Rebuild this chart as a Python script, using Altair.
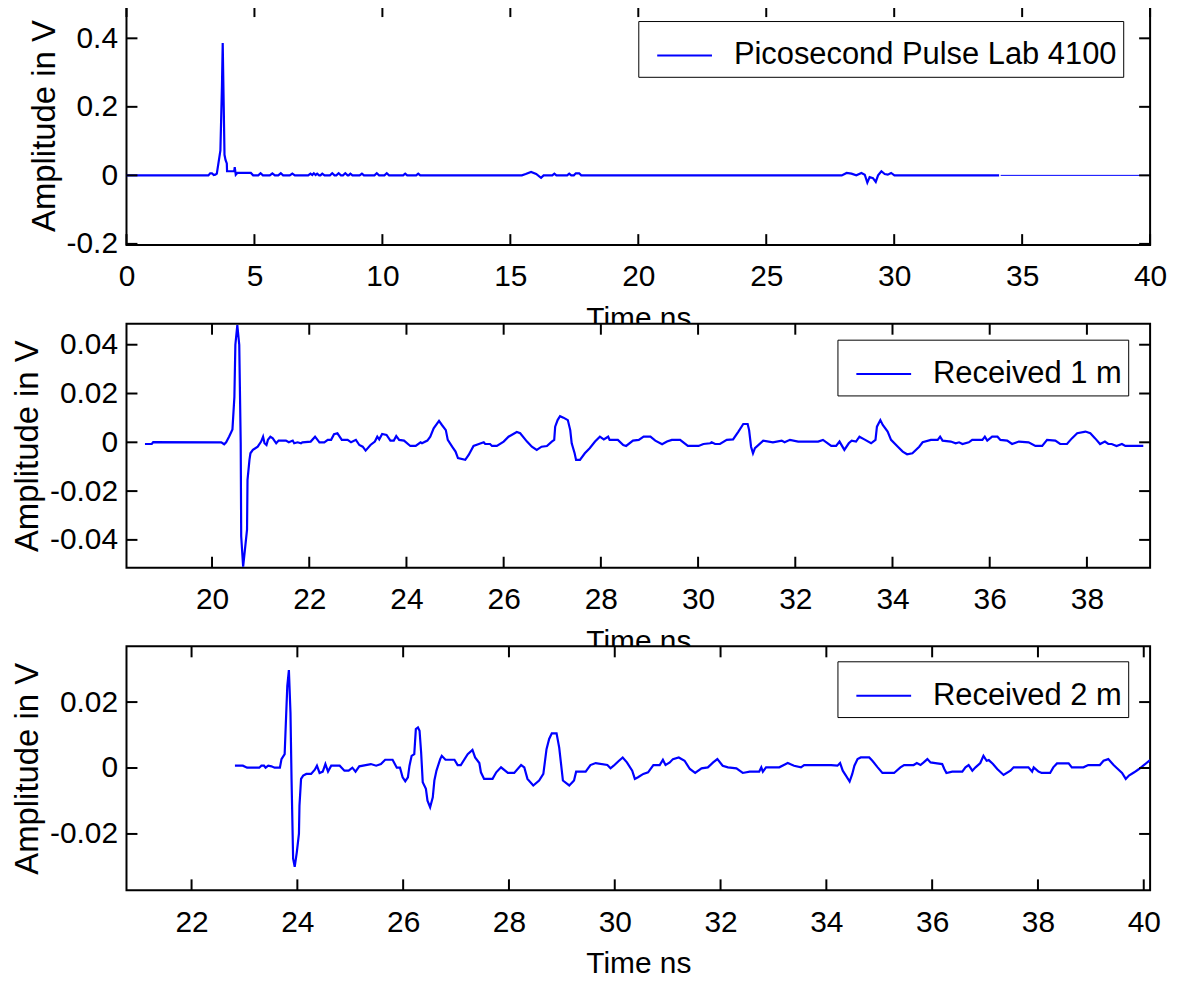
import altair as alt
import pandas as pd

FONT = "Liberation Sans"
BLUE = "#0000ff"

# ---------------- Panel 1: Picosecond Pulse Lab 4100 ----------------
top_t = [0.0, 3.20, 3.27, 3.34, 3.41, 3.47, 3.53, 3.67, 3.73, 3.76, 3.80, 3.83, 3.87, 3.92, 3.93,
         4.18, 4.21, 4.23, 4.27, 4.33, 4.86, 4.95, 5.15, 5.24, 5.33, 5.60, 5.70, 5.80, 5.93, 6.03,
         6.12, 6.38, 6.48, 6.58, 7.10, 7.19, 7.26, 7.32, 7.39, 7.45, 7.53, 7.58, 7.65, 7.74, 7.95,
         8.04, 8.13, 8.20, 8.29, 8.38, 8.46, 8.55, 8.64, 8.68, 8.75, 8.83, 9.11, 9.20, 9.28, 9.69,
         9.78, 9.87, 10.08, 10.17, 10.26, 10.81, 10.89, 10.97, 11.32, 11.40, 11.48, 15.45, 15.60,
         15.81, 16.01, 16.20, 16.30, 16.64, 16.72, 16.80, 17.22, 17.30, 17.38, 17.48, 17.56, 17.69,
         17.77, 27.95, 28.14, 28.33, 28.52, 28.72, 28.85, 28.95, 29.04, 29.17, 29.28, 29.37, 29.50,
         29.63, 29.75, 29.88, 30.01, 34.10]
top_v = [0.0, 0.0, 0.006, 0.006, 0.001, 0.002, 0.005, 0.073, 0.26, 0.386, 0.20, 0.06, 0.045, 0.035, 0.012,
         0.012, 0.012, 0.024, 0.002, 0.007, 0.007, 0.0, 0.0, 0.006, 0.0, 0.0, 0.006, 0.0, 0.0, 0.006,
         0.0, 0.0, 0.005, 0.0, 0.0, 0.005, 0.001, 0.006, 0.001, 0.005, 0.0, 0.0, 0.005, 0.0, 0.0,
         0.006, 0.0, 0.0, 0.006, 0.0, 0.0, 0.006, 0.0, 0.0, 0.005, 0.0, 0.0, 0.005, 0.0, 0.0,
         0.006, 0.0, 0.0, 0.006, 0.0, 0.0, 0.005, 0.0, 0.0, 0.005, 0.0, 0.0, 0.004,
         0.010, 0.004, -0.007, 0.0, 0.0, 0.005, 0.0, 0.0, 0.005, 0.0, 0.0, 0.006, 0.006,
         0.0, 0.0, 0.007, 0.005, 0.0, 0.007, 0.002, -0.021, -0.005, -0.008, -0.019, 0.0, 0.012,
         0.004, 0.002, 0.007, 0.0, 0.0]
tail_t = [34.16, 40.0]
tail_v = [0.0, 0.0]

# ---------------- Panel 2: Received 1 m ----------------
m1_t = [18.62, 18.76, 18.79, 20.19, 20.25, 20.29, 20.35, 20.42, 20.46, 20.48, 20.52, 20.56, 20.59,
        20.60, 20.64, 20.72, 20.73, 20.77, 20.79, 20.84, 20.94, 21.01, 21.05, 21.08, 21.12, 21.15,
        21.20, 21.25, 21.32, 21.37, 21.52, 21.58, 21.66, 21.69, 21.76, 21.83, 21.86, 22.03, 22.12,
        22.21, 22.31, 22.38, 22.45, 22.51, 22.58, 22.67, 22.79, 22.86, 22.96, 23.03, 23.10, 23.16,
        23.26, 23.35, 23.40, 23.44, 23.50, 23.59, 23.67, 23.74, 23.79, 23.85, 23.95, 24.08, 24.19,
        24.29, 24.32, 24.43, 24.49, 24.56, 24.67, 24.73, 24.81, 24.85, 24.94, 25.01, 25.06, 25.21,
        25.28, 25.38, 25.49, 25.59, 25.62, 25.72, 25.76, 25.86, 26.00, 26.10, 26.27, 26.34, 26.48,
        26.58, 26.68, 26.78, 26.89, 26.99, 27.04, 27.06, 27.11, 27.16, 27.23, 27.32, 27.37, 27.40,
        27.46, 27.49, 27.57, 27.67, 27.77, 27.88, 27.98, 28.06, 28.15, 28.18, 28.35, 28.46, 28.52,
        28.66, 28.78, 28.88, 29.02, 29.12, 29.26, 29.36, 29.46, 29.63, 29.79, 30.01, 30.11, 30.25,
        30.28, 30.35, 30.45, 30.59, 30.72, 30.83, 30.93, 31.02, 31.05, 31.09, 31.13, 31.17, 31.34,
        31.54, 31.72, 31.78, 31.89, 32.06, 32.47, 32.57, 32.74, 32.84, 32.91, 33.01, 33.10, 33.16,
        33.25, 33.32, 33.42, 33.56, 33.65, 33.68, 33.75, 33.80, 33.90, 33.97, 34.11, 34.21, 34.30,
        34.41, 34.55, 34.62, 34.79, 34.93, 34.98, 35.03, 35.20, 35.30, 35.37, 35.44, 35.57, 35.64,
        35.85, 35.90, 35.95, 36.05, 36.16, 36.22, 36.36, 36.46, 36.60, 36.80, 36.94, 37.08, 37.18,
        37.35, 37.45, 37.59, 37.69, 37.80, 37.97, 38.07, 38.17, 38.27, 38.37, 38.44, 38.51, 38.61,
        38.72, 38.79, 39.16]
m1_v = [-0.0007, -0.0007, 0.0001, 0.0, -0.0008, 0.0, 0.0023, 0.0053, 0.0186, 0.040, 0.048, 0.040, -0.0004,
        -0.0385, -0.051, -0.0358, -0.0154, -0.0072, -0.0045, -0.0031, -0.0018, 0.0003, 0.0023, -0.0004, -0.0011, 0.001,
        0.0023, 0.0016, -0.0004, 0.0007, 0.0007, 0.0, 0.0007, -0.0004, 0.0, -0.0004, 0.0, 0.0003, 0.0023,
        0.0, 0.0, 0.001, 0.001, 0.0033, 0.0037, 0.001, 0.001, 0.0, 0.001, -0.0011, -0.0018, -0.0034,
        -0.0011, 0.0003, 0.0023, 0.0012, 0.0034, 0.003, 0.0007, 0.0007, 0.0026, 0.001, 0.0007, -0.0015, -0.0015,
        0.0, -0.0004, 0.0007, 0.0023, 0.0057, 0.0088, 0.0071, 0.005, 0.001, -0.0018, -0.0038, -0.0065, -0.0072,
        -0.0052, -0.0015, -0.0007, 0.0, -0.0007, -0.0007, -0.0015, -0.0015, 0.0003, 0.0023, 0.0042, 0.0037, 0.0003,
        -0.0018, -0.0031, -0.0018, -0.0015, 0.0003, 0.001, 0.0064, 0.0091, 0.0107, 0.0101, 0.0091, 0.005, -0.0004,
        -0.0045, -0.0072, -0.0072, -0.0045, -0.0024, 0.0003, 0.0023, 0.0012, 0.0023, 0.001, 0.001, -0.0011, -0.0015,
        0.0007, 0.001, 0.0023, 0.0023, 0.0007, -0.0008, 0.0003, 0.001, 0.001, -0.0015, -0.0015, -0.0007, -0.0004,
        0.0, -0.0007, -0.0007, 0.001, 0.0012, 0.0044, 0.0075, 0.0075, 0.005, -0.0018, -0.0045, -0.0024, 0.0007,
        0.0, 0.0007, 0.0, 0.001, 0.0003, 0.0003, 0.001, -0.0015, -0.0015, 0.0003, -0.0031, -0.0004, 0.0007,
        0.0003, 0.0023, 0.0012, -0.0004, 0.001, 0.0064, 0.0091, 0.0071, 0.0044, 0.001, -0.0018, -0.0038, -0.0049,
        -0.0045, -0.0018, 0.0, 0.001, 0.001, 0.0023, 0.0007, 0.0003, -0.0004, 0.0, -0.0007, 0.0, 0.001,
        0.001, 0.0023, 0.0007, 0.0023, 0.0023, 0.001, 0.0007, -0.0007, 0.0003, 0.0, -0.0015, -0.0015, 0.001,
        0.0007, -0.0007, -0.0007, 0.0016, 0.0037, 0.0044, 0.0037, 0.0016, -0.0007, 0.0003, -0.0007, -0.0007, -0.0015,
        -0.0007, -0.0015, -0.0015]

# ---------------- Panel 3: Received 2 m ----------------
m2_t = [22.82, 22.97, 23.05, 23.28, 23.32, 23.37, 23.40, 23.45, 23.51, 23.57, 23.67, 23.70, 23.76,
        23.79, 23.81, 23.84, 23.87, 23.89, 23.92, 23.95, 23.99, 24.03, 24.04, 24.07, 24.11, 24.17,
        24.26, 24.33, 24.37, 24.42, 24.48, 24.53, 24.58, 24.64, 24.80, 24.89, 24.97, 25.04, 25.10,
        25.17, 25.39, 25.49, 25.58, 25.66, 25.80, 25.88, 25.94, 25.99, 26.04, 26.09, 26.12, 26.16,
        26.21, 26.24, 26.28, 26.31, 26.34, 26.37, 26.43, 26.46, 26.51, 26.56, 26.59, 26.63, 26.70,
        26.73, 26.80, 26.97, 27.03, 27.09, 27.22, 27.31, 27.36, 27.44, 27.47, 27.53, 27.69, 27.76,
        27.85, 27.98, 28.10, 28.23, 28.29, 28.35, 28.46, 28.57, 28.65, 28.71, 28.76, 28.81, 28.90,
        28.95, 29.02, 29.14, 29.23, 29.27, 29.45, 29.54, 29.64, 29.86, 29.92, 29.98, 30.08, 30.15,
        30.23, 30.33, 30.38, 30.44, 30.54, 30.63, 30.73, 30.85, 30.91, 30.96, 31.04, 31.10, 31.21,
        31.32, 31.42, 31.52, 31.64, 31.76, 31.86, 31.94, 32.04, 32.14, 32.30, 32.42, 32.55, 32.73,
        32.77, 32.80, 32.86, 33.11, 33.27, 33.39, 33.52, 33.58, 34.09, 34.21, 34.26, 34.31, 34.37,
        34.44, 34.49, 34.53, 34.59, 34.65, 34.81, 34.87, 34.97, 35.06, 35.28, 35.40, 35.47, 35.65,
        35.71, 35.78, 35.84, 35.91, 35.97, 36.06, 36.19, 36.23, 36.27, 36.38, 36.57, 36.63, 36.69,
        36.76, 36.82, 36.91, 36.97, 37.03, 37.07, 37.15, 37.23, 37.35, 37.48, 37.54, 37.82, 37.89,
        37.92, 38.01, 38.07, 38.23, 38.29, 38.36, 38.58, 38.64, 38.86, 38.95, 39.17, 39.24, 39.33,
        39.43, 39.51, 39.59, 39.66, 39.72, 39.82, 39.91, 39.99, 40.12]
m2_v = [0.0007, 0.0007, 0.0001, 0.0001, 0.0007, 0.0007, 0.0001, 0.0007, 0.0005, 0.0001, 0.0001, 0.0027, 0.0042,
        0.0168, 0.0249, 0.0297, 0.0168, -0.0033, -0.0275, -0.030, -0.0255, -0.0199, -0.0114, -0.0033, -0.0023, -0.0018,
        -0.0018, -0.0005, 0.0007, -0.0015, -0.0011, 0.0012, -0.0011, 0.0007, 0.0007, -0.0008, -0.0008, 0.0001, -0.0011,
        0.0005, 0.0012, 0.0007, 0.0012, 0.0025, 0.0025, 0.0001, 0.0001, -0.0028, -0.004, -0.0028, 0.0007, 0.0037,
        0.0042, 0.0118, 0.0123, 0.0113, 0.0047, -0.0043, -0.0063, -0.0099, -0.0119, -0.0089, -0.0038, -0.0008, 0.0027,
        0.0037, 0.0025, 0.0025, 0.0009, 0.0009, 0.0042, 0.0055, 0.0032, 0.0015, -0.0013, -0.0033, -0.0033, -0.0013,
        0.0002, -0.0015, -0.0015, 0.0009, 0.0002, -0.0033, -0.0053, -0.0038, -0.0018, 0.0057, 0.0088, 0.0105, 0.0105,
        0.0062, -0.0038, -0.0053, -0.0038, -0.0011, -0.0011, 0.0009, 0.0015, 0.0009, -0.0001, 0.0007, 0.0022, 0.0032,
        0.0017, -0.0008, -0.0033, -0.0028, -0.0018, -0.0013, 0.0009, 0.0009, 0.0025, 0.0009, 0.0017, 0.0027, 0.0032,
        0.0022, -0.0003, -0.0015, -0.0001, 0.0002, 0.0017, 0.0027, 0.0007, 0.0002, -0.0001, -0.0015, -0.0011, -0.0011,
        0.0002, -0.0011, 0.0002, 0.0002, 0.0015, 0.0007, 0.0002, 0.0009, 0.0009, 0.0007, 0.0015, -0.0008, -0.0023,
        -0.0041, -0.0018, 0.0007, 0.0027, 0.0032, 0.0032, 0.0022, 0.0002, -0.0015, -0.0015, 0.0002, 0.0009, 0.0009,
        0.0015, 0.0009, 0.0017, 0.0027, 0.0017, 0.0015, 0.0012, -0.0003, -0.0015, -0.0011, -0.0011, 0.0002, 0.0009,
        -0.0008, 0.0002, 0.0015, 0.0037, 0.0022, 0.0024, 0.0012, -0.0003, -0.0021, -0.0008, 0.0002, 0.0002, -0.0011,
        0.0002, -0.0011, -0.0015, -0.0015, 0.0002, 0.0014, 0.0014, 0.0002, 0.0002, 0.0009, 0.0009, 0.0022, 0.0027,
        0.0009, -0.0003, -0.0015, -0.0033, -0.0023, -0.0013, -0.0003, 0.0007, 0.0024]

# ---------------- Axis ticks ----------------
top_xticks = [0, 5, 10, 15, 20, 25, 30, 35, 40]
top_yticks = [-0.2, 0, 0.2, 0.4]
mid_xticks = [20, 22, 24, 26, 28, 30, 32, 34, 36, 38]
mid_yticks = [-0.04, -0.02, 0, 0.02, 0.04]
bot_xticks = [22, 24, 26, 28, 30, 32, 34, 36, 38, 40]
bot_yticks = [-0.02, 0, 0.02]

W = 1028
TICK = 11
MINUS_FIX = "replace(datum.label, '\u2212', '-')"


def panel(t, v, name, xdom, ydom, xticks, yticks, H, lx, ly, extra=None):
    xs = alt.Scale(domain=xdom, nice=False, zero=False)
    ys = alt.Scale(domain=ydom, nice=False, zero=False)
    df = pd.DataFrame({"t": t, "v": v, "s": name})
    line = alt.Chart(df).mark_line(strokeWidth=2.2, clip=True).encode(
        x=alt.X("t:Q", scale=xs, title="Time ns",
                axis=alt.Axis(values=xticks, format="d", ticks=False, tickSize=0, domain=False,
                              grid=False, labelFlush=False, labelOverlap=False, labelPadding=17,
                              labelFontSize=30, titleFontSize=30, titlePadding=12,
                              labelFont=FONT, titleFont=FONT, titleFontWeight="normal",
                              labelColor="black", titleColor="black")),
        y=alt.Y("v:Q", scale=ys, title="Amplitude in V",
                axis=alt.Axis(values=yticks, format="~g", labelExpr=MINUS_FIX, ticks=False,
                              tickSize=0, domain=False, grid=False, labelOverlap=False,
                              labelFlush=False, labelPadding=9, labelFontSize=30,
                              titleFontSize=33, titlePadding=5,
                              labelFont=FONT, titleFont=FONT, titleFontWeight="normal",
                              labelColor="black", titleColor="black")),
        color=alt.Color("s:N", scale=alt.Scale(range=[BLUE]),
                        legend=alt.Legend(orient="none", legendX=lx, legendY=ly, title=None,
                                          strokeColor="black", fillColor="white", padding=6,
                                          symbolType="stroke", symbolSize=3025,
                                          symbolStrokeWidth=2, symbolOffset=12, labelOffset=21,
                                          labelFontSize=31, labelFont=FONT, labelLimit=800,
                                          labelColor="black")),
    )
    layers = [line]
    if extra is not None:
        et, ev = extra
        tdf = pd.DataFrame({"t": et, "v": ev})
        layers.append(alt.Chart(tdf).mark_line(strokeWidth=1, color=BLUE, clip=True).encode(
            x=alt.X("t:Q", scale=xs), y=alt.Y("v:Q", scale=ys)))
    xt = pd.DataFrame({"k": xticks})
    yt = pd.DataFrame({"k": yticks})
    rule_kw = dict(color="black", strokeWidth=2)
    layers.append(alt.Chart(xt).mark_rule(**rule_kw).encode(
        x=alt.X("k:Q", scale=xs), y=alt.value(0), y2=alt.value(TICK)))
    layers.append(alt.Chart(xt).mark_rule(**rule_kw).encode(
        x=alt.X("k:Q", scale=xs), y=alt.value(H - TICK), y2=alt.value(H)))
    layers.append(alt.Chart(yt).mark_rule(**rule_kw).encode(
        y=alt.Y("k:Q", scale=ys), x=alt.value(0), x2=alt.value(TICK)))
    layers.append(alt.Chart(yt).mark_rule(**rule_kw).encode(
        y=alt.Y("k:Q", scale=ys), x=alt.value(W - TICK), x2=alt.value(W)))
    return alt.layer(*layers).properties(width=W, height=H)


p1 = panel(top_t, top_v, "Picosecond Pulse Lab 4100", [0, 40], [-0.2035, 0.494],
           top_xticks, top_yticks, 240, 514, 15, extra=(tail_t, tail_v))
p2 = panel(m1_t, m1_v, "Received 1 m", [18.24, 39.30], [-0.0514, 0.0486],
           mid_xticks, mid_yticks, 245, 714, 16)
p3 = panel(m2_t, m2_v, "Received 2 m", [20.77, 40.12], [-0.0371, 0.0369],
           bot_xticks, bot_yticks, 245, 714, 15)

chart = alt.vconcat(p1, p2, p3, spacing=79, bounds="flush").resolve_scale(
    x="independent", y="independent", color="independent"
).resolve_legend(color="independent").properties(
    padding={"left": 2, "top": -6, "right": 5, "bottom": 5}, background="white"
).configure_view(
    stroke="black", strokeWidth=2, fill="white"
).configure_axis(
    labelFont=FONT, titleFont=FONT, labelColor="black", titleColor="black",
    titleFontWeight="normal"
)

chart.save("out.html", embed_options={"renderer": "svg", "actions": False})
